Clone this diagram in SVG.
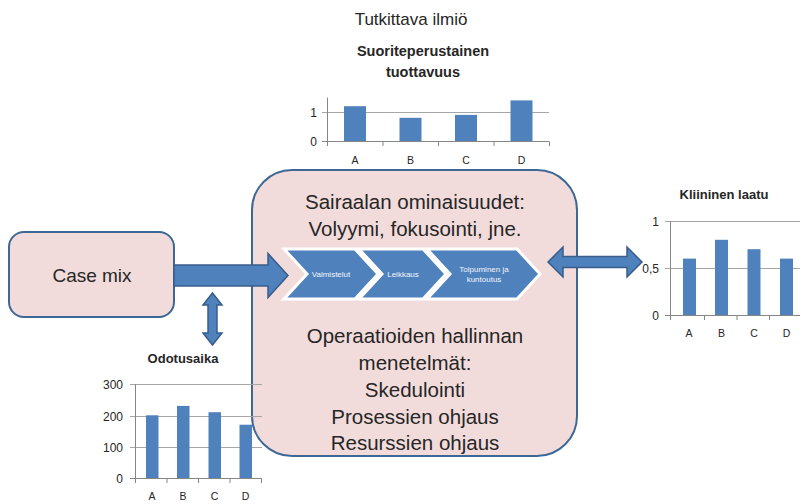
<svg xmlns="http://www.w3.org/2000/svg" width="801" height="504" viewBox="0 0 801 504">
  <style>
    text { font-family: "Liberation Sans", Arial, sans-serif; fill: #262626; }
    .title { font-size: 17px; }
    .big { font-size: 20.5px; text-anchor: middle; }
    .ctitle { font-weight: bold; text-anchor: middle; }
    .ylab { font-size: 12px; text-anchor: end; }
    .xlab { font-size: 10.5px; text-anchor: middle; }
    .chev-label { font-size: 8px; fill: #f2f5fa; text-anchor: middle; }
    .grid { stroke: #a6a6a6; stroke-width: 1; fill: none; }
    .axis { stroke: #868686; stroke-width: 1; fill: none; }
    .bar { fill: #4f81bd; }
    .panel { fill: #f2dcdb; stroke: #3d6895; stroke-width: 2; }
    .chev { fill: #4f81bd; stroke: #ffffff; stroke-width: 3; stroke-linejoin: miter; }
    .arrow { fill: #4f81bd; stroke: #385d8a; stroke-width: 1.5; stroke-linejoin: miter; }
  </style>

  <text class="title" x="411" y="25" text-anchor="middle">Tutkittava ilmiö</text>

  <!-- Hospital panel -->
  <g id="hospital">
    <rect class="panel" x="252" y="170" width="325" height="286" rx="40" ry="40"/>
    <text class="big" x="415" y="209">Sairaalan ominaisuudet:</text>
    <text class="big" x="415" y="236">Volyymi, fokusointi, jne.</text>
    <text class="big" x="415" y="343">Operaatioiden hallinnan</text>
    <text class="big" x="415" y="370">menetelmät:</text>
    <text class="big" x="415" y="397">Skedulointi</text>
    <text class="big" x="415" y="424">Prosessien ohjaus</text>
    <text class="big" x="415" y="450">Resurssien ohjaus</text>
  </g>

  <!-- Process chevrons -->
  <g id="process">
    <g id="step-valmistelut">
      <path class="chev" d="M284,249 H355 L378,274 L355,299 H284 L307,274 Z"/>
      <text class="chev-label" x="331" y="277">Valmistelut</text>
    </g>
    <g id="step-leikkaus">
      <path class="chev" d="M359,249 H423 L446,274 L423,299 H359 L382,274 Z"/>
      <text class="chev-label" x="403" y="277">Leikkaus</text>
    </g>
    <g id="step-toipuminen">
      <path class="chev" d="M427,249 H517 L540,274 L517,299 H427 L450,274 Z"/>
      <text class="chev-label" x="484" y="272">Toipuminen ja</text>
      <text class="chev-label" x="484" y="282">kuntoutus</text>
    </g>
  </g>

  <!-- Case mix -->
  <g id="case-mix">
    <rect class="panel" x="9" y="232" width="165" height="85" rx="15" ry="15"/>
    <text x="92" y="282" font-size="19" text-anchor="middle">Case mix</text>
  </g>

  <!-- Productivity chart -->
  <g id="chart-tuottavuus">
    <text class="ctitle" x="423" y="56" font-size="14.5">Suoriteperustainen</text>
    <text class="ctitle" x="423" y="77" font-size="14.5">tuottavuus</text>
    <path class="grid" d="M322,112.5 H549"/>
    <path class="axis" d="M322,141.5 H549 M327.5,97.5 V146 M383,141.5 V146 M438.5,141.5 V146 M494,141.5 V146 M549.5,141.5 V146"/>
    <rect class="bar" x="344" y="106.2" width="22" height="34.8"/>
    <rect class="bar" x="399.5" y="117.8" width="22" height="23.2"/>
    <rect class="bar" x="455" y="114.9" width="22" height="26.1"/>
    <rect class="bar" x="510.5" y="100.4" width="22" height="40.6"/>
    <text class="ylab" x="317" y="117">1</text>
    <text class="ylab" x="317" y="146">0</text>
    <text class="xlab" x="355" y="164">A</text>
    <text class="xlab" x="410.5" y="164">B</text>
    <text class="xlab" x="466" y="164">C</text>
    <text class="xlab" x="521.5" y="164">D</text>
  </g>

  <!-- Clinical quality chart -->
  <g id="chart-laatu">
    <text class="ctitle" x="724" y="199" font-size="13">Kliininen laatu</text>
    <path class="grid" d="M665,221.5 H800 M665,268.5 H800"/>
    <path class="axis" d="M665,315.5 H800 M670.5,221 V320 M704.5,315.5 V320 M737,315.5 V320 M769.5,315.5 V320"/>
    <rect class="bar" x="683" y="258.6" width="13" height="56.4"/>
    <rect class="bar" x="715" y="239.8" width="13" height="75.2"/>
    <rect class="bar" x="747.5" y="249.2" width="13" height="65.8"/>
    <rect class="bar" x="780" y="258.6" width="13" height="56.4"/>
    <text class="ylab" x="659" y="226">1</text>
    <text class="ylab" x="659" y="273">0,5</text>
    <text class="ylab" x="659" y="320">0</text>
    <text class="xlab" x="689" y="337">A</text>
    <text class="xlab" x="721.5" y="337">B</text>
    <text class="xlab" x="754" y="337">C</text>
    <text class="xlab" x="786.5" y="337">D</text>
  </g>

  <!-- Waiting time chart -->
  <g id="chart-odotusaika">
    <text class="ctitle" x="183" y="363" font-size="13">Odotusaika</text>
    <path class="grid" d="M130,384.5 H262 M130,416.5 H262 M130,447.5 H262"/>
    <path class="axis" d="M130,478.5 H262 M135.5,384 V483 M167,478.5 V483 M198.5,478.5 V483 M230,478.5 V483 M261.5,478.5 V483"/>
    <rect class="bar" x="146" y="415.3" width="12.5" height="62.7"/>
    <rect class="bar" x="177" y="405.9" width="12.5" height="72.1"/>
    <rect class="bar" x="208.5" y="412.2" width="12.5" height="65.8"/>
    <rect class="bar" x="239.5" y="424.7" width="12.5" height="53.3"/>
    <text class="ylab" x="123" y="389">300</text>
    <text class="ylab" x="123" y="421">200</text>
    <text class="ylab" x="123" y="452">100</text>
    <text class="ylab" x="123" y="483">0</text>
    <text class="xlab" x="152" y="500">A</text>
    <text class="xlab" x="183" y="500">B</text>
    <text class="xlab" x="214.5" y="500">C</text>
    <text class="xlab" x="245.5" y="500">D</text>
  </g>

  <!-- Connectors -->
  <g id="connectors">
    <path class="arrow" d="M174,265 H268 V253.5 L288,275.5 L268,297.5 V286 H174 Z"/>
    <path class="arrow" d="M548,262 L563,247 V256.5 H627 V247 L642,262 L627,277 V267.5 H563 V277 Z"/>
    <path class="arrow" d="M212.5,293 L222,305 H217 V333 H222 L212.5,345 L203,333 H208 V305 H203 Z"/>
  </g>
</svg>
